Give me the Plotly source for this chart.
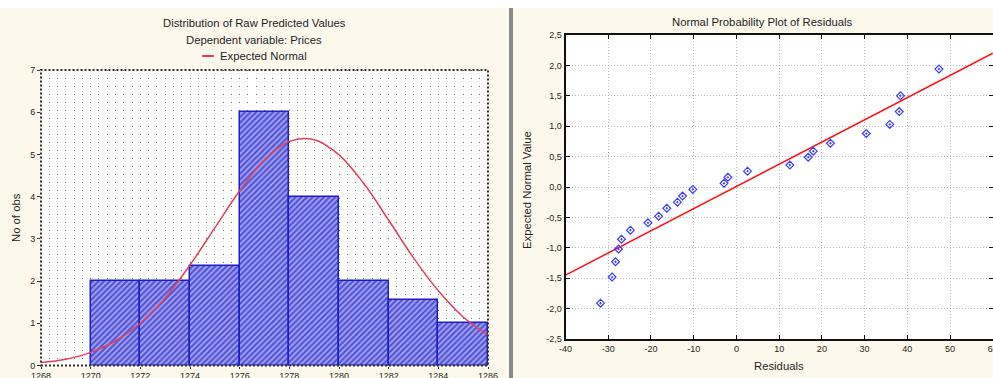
import plotly.graph_objects as go

W, H = 993, 378

# ---------------- Left panel data: histogram of raw predicted values
bin_centers = [1271, 1273, 1275, 1277, 1279, 1281, 1283, 1285]
bin_counts = [2, 2, 2.35, 6, 4, 2, 1.55, 1]
normal_x = [1268, 1269, 1270, 1271, 1272, 1273, 1274, 1275, 1276, 1277,
            1278, 1279, 1280, 1281, 1282, 1283, 1284, 1285, 1286]
normal_y = [0.07, 0.15, 0.31, 0.58, 1.0, 1.6, 2.38, 3.26, 4.14, 4.87,
            5.31, 5.35, 4.99, 4.31, 3.44, 2.55, 1.77, 1.15, 0.72]
hist_xticks = [1268, 1270, 1272, 1274, 1276, 1278, 1280, 1282, 1284, 1286]
hist_yticks = [0, 1, 2, 3, 4, 5, 6, 7]

# ---------------- Right panel data: normal probability plot of residuals
residuals = [-31.8, -29.1, -28.3, -27.6, -26.9, -24.8, -20.7, -18.2, -16.3,
             -13.8, -12.6, -10.2, -2.9, -2.0, 2.6, 12.5, 16.8, 18.0, 22.0,
             30.4, 35.9, 38.1, 38.4, 47.4]
expected_normal = [-1.91, -1.48, -1.23, -1.02, -0.86, -0.71, -0.59, -0.48,
                   -0.35, -0.25, -0.15, -0.04, 0.06, 0.16, 0.26, 0.36, 0.49,
                   0.59, 0.72, 0.88, 1.03, 1.24, 1.50, 1.94]
ref_x = [-40, 60]
ref_y = [-1.45, 2.2]
res_xticks = [-40, -30, -20, -10, 0, 10, 20, 30, 40, 50, 60]
res_xtext = ["-40", "-30", "-20", "-10", "0", "10", "20", "30", "40", "50", "60"]
res_yticks = [2.5, 2.0, 1.5, 1.0, 0.5, 0.0, -0.5, -1.0, -1.5, -2.0, -2.5]
res_ytext = ["2,5", "2,0", "1,5", "1,0", "0,5", "0,0", "-0,5", "-1,0", "-1,5", "-2,0", "-2,5"]

FONT = "Liberation Sans"
TXT = "#1e1e1e"
CREAM = "#fdf8ec"


def px(x):
    return x / W


def py(y):
    return 1 - y / H


fig = go.Figure()

fig.add_trace(go.Bar(
    x=bin_centers, y=bin_counts, width=2, xaxis="x", yaxis="y",
    marker=dict(color="#5252da",
                line=dict(color="#1c1cc8", width=1.5),
                pattern=dict(shape="/", fgcolor="#ffffff", size=4, solidity=0.45)),
    showlegend=False,
))
fig.add_trace(go.Scatter(
    x=normal_x, y=normal_y, mode="lines", line=dict(color="#e2405a", width=1.5, shape="spline"),
    xaxis="x", yaxis="y", name="Expected Normal", showlegend=False,
))

fig.add_trace(go.Scatter(
    x=ref_x, y=ref_y, mode="lines", line=dict(color="#ff1010", width=1.5),
    xaxis="x2", yaxis="y2", showlegend=False,
))
fig.add_trace(go.Scatter(
    x=residuals, y=expected_normal, mode="markers",
    marker=dict(symbol="diamond-open-dot", size=6, color="#3a3aff", line=dict(width=1.2)),
    xaxis="x2", yaxis="y2", showlegend=False,
))

tickfont = dict(family=FONT, size=9, color=TXT)

fig.update_layout(
    width=W, height=H,
    margin=dict(l=0, r=0, t=0, b=0),
    paper_bgcolor=CREAM,
    plot_bgcolor="#ffffff",
    bargap=0,
    xaxis=dict(domain=[px(41), px(488)], range=[1268, 1286], anchor="y", automargin=False,
               tickvals=hist_xticks, ticks="outside", ticklen=2, tickcolor="#333",
               tickfont=tickfont, showline=False, zeroline=False, ticklabeloverflow="allow",
               showgrid=True, gridcolor="#6e6e6e", griddash="1px,7px", gridwidth=1,
               minor=dict(dtick=1 / 3, tick0=1268, showgrid=True, gridcolor="#6e6e6e",
                          griddash="1px,7px", gridwidth=1)),
    yaxis=dict(domain=[py(365.5), py(70)], range=[0, 7], anchor="x", automargin=False,
               tickvals=hist_yticks, ticks="outside", ticklen=3, tickcolor="#333",
               tickfont=tickfont, showgrid=False, zeroline=False, showline=False),
    xaxis2=dict(domain=[px(565.5), 1.0], range=[-40, 60.05], anchor="y2", automargin=False,
                tickvals=res_xticks, ticktext=res_xtext, ticks="inside", ticklen=4,
                tickcolor="#111", tickfont=tickfont, ticklabeloverflow="allow",
                showline=True, linecolor="#111", linewidth=2, mirror="ticks",
                showgrid=True, gridcolor="#b8b8b8", griddash="1px,2px", gridwidth=1,
                zeroline=False),
    yaxis2=dict(domain=[py(339), py(35)], range=[-2.5, 2.5], anchor="x2", automargin=False,
                tickvals=res_yticks, ticktext=res_ytext, ticks="inside", ticklen=4,
                tickcolor="#111", tickfont=tickfont,
                showline=True, linecolor="#111", linewidth=2, mirror="ticks",
                showgrid=True, gridcolor="#b8b8b8", griddash="1px,2px", gridwidth=1,
                zeroline=False),
)

shapes = [
    # white strip at very top
    dict(type="rect", xref="paper", yref="paper", x0=0, x1=1, y0=py(8), y1=1,
         fillcolor="#ffffff", line=dict(width=0), layer="below"),
    # separator bar between panels
    dict(type="rect", xref="paper", yref="paper", x0=px(509), x1=px(513), y0=0, y1=py(8),
         fillcolor="#8a8a8a", line=dict(width=0)),
    # dotted frame of left plot
    dict(type="rect", xref="x domain", yref="y domain", x0=0, x1=1, y0=0, y1=1,
         line=dict(color="#303030", width=2, dash="2px,2px")),
    # legend line
    dict(type="line", xref="paper", yref="paper", x0=px(202), x1=px(214), y0=py(56), y1=py(56),
         line=dict(color="#e2405a", width=2)),
]

ann = [
    dict(text="Distribution of Raw Predicted Values", x=px(254), y=py(23)),
    dict(text="Dependent variable: Prices", x=px(254), y=py(40)),
    dict(text="Expected Normal", x=px(218), y=py(56), xanchor="left"),
    dict(text="No of obs", x=px(16), y=py(218), textangle=-90),
    dict(text="Normal Probability Plot of Residuals", x=px(762), y=py(22)),
    dict(text="Expected Normal Value", x=px(527), y=py(190), textangle=-90),
    dict(text="Residuals", x=px(779), y=py(366)),
]
annotations = []
for a in ann:
    d = dict(xref="paper", yref="paper", showarrow=False,
             font=dict(family=FONT, size=11.3, color=TXT), xanchor="center", yanchor="middle")
    d.update(a)
    annotations.append(d)

fig.update_layout(shapes=shapes, annotations=annotations)

fig.write_html(
    "out.html",
    config={"displayModeBar": False},
    post_script="document.body.style.margin='0';document.body.style.overflow='hidden';",
)
